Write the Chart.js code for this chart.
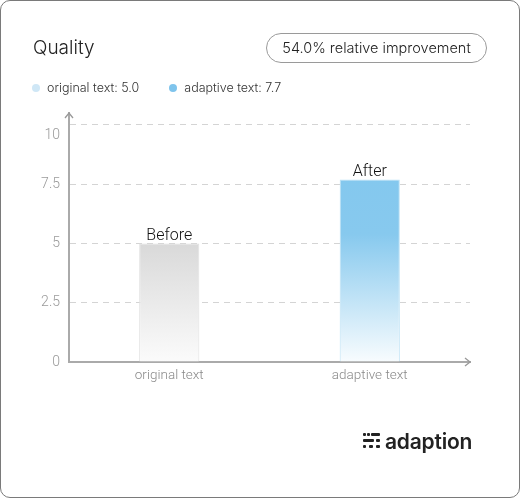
<!DOCTYPE html>
<html>
<head>
<meta charset="utf-8">
<script src="https://cdn.jsdelivr.net/npm/chart.js@4"></script>
<style>
  html, body { margin: 0; padding: 0; background: #fff; }
  body { width: 520px; height: 498px; position: relative; overflow: hidden; font-family: Inter, "Noto Sans", sans-serif; }
  .card { position: absolute; left: 0; top: 0; width: 520px; height: 498px; box-sizing: border-box; border: 1px solid #7a7a7a; border-radius: 10px; }
  #chart { position: absolute; left: 0; top: 0; }
  .title { position: absolute; left: 33px; top: 36px; font-size: 19px; font-weight: 300; color: #222; }
  .pill { position: absolute; left: 266px; top: 33px; width: 221px; height: 30px; box-sizing: border-box; border: 1px solid #9a9a9a; border-radius: 15px; font-size: 14.5px; font-weight: 300; color: #222; text-align: center; line-height: 28px; }
  .legend { position: absolute; left: 32px; top: 80px; font-size: 12.5px; font-weight: 300; color: #333; display: flex; }
  .legend .item { display: flex; align-items: center; margin-right: 30px; }
  .legend .dot { width: 8px; height: 8px; border-radius: 50%; margin-right: 7px; }
  .logo { position: absolute; left: 362px; top: 428px; height: 26px; display: flex; align-items: center; }
  .logo .txt { font-size: 21px; font-weight: 600; color: #222; margin-left: 23px; letter-spacing: -0.2px; }
  .logo .b { position: absolute; background: #222; border-radius: 1px; }
</style>
</head>
<body>
<div class="card"></div>
<canvas id="chart" width="520" height="498"></canvas>
<div class="title">Quality</div>
<div class="pill" id="pill"></div>
<div class="legend" id="legend"></div>
<div class="logo">
  <div class="b" style="left:1px;top:5px;width:3px;height:3px"></div>
  <div class="b" style="left:5px;top:5px;width:3px;height:3px"></div>
  <div class="b" style="left:9px;top:5px;width:9px;height:3px"></div>
  <div class="b" style="left:1px;top:11px;width:11px;height:3px"></div>
  <div class="b" style="left:14px;top:11px;width:4px;height:3px"></div>
  <div class="b" style="left:1px;top:17px;width:3px;height:3px"></div>
  <div class="b" style="left:7px;top:17px;width:4px;height:3px"></div>
  <div class="b" style="left:14px;top:17px;width:4px;height:3px"></div>
  <span class="txt">adaption</span>
</div>
<script>
const categories = ['original text', 'adaptive text'];
const scores = [5.0, 7.7];
const barTags = ['Before', 'After'];
const legendColors = ['#cfe7f6', '#7fc4ec'];
const yTicks = [0, 2.5, 5, 7.5, 10];

// header texts from data
const gain = (scores[1] - scores[0]) / scores[0] * 100;
document.getElementById('pill').textContent = gain.toFixed(1) + '% relative improvement';
document.getElementById('legend').innerHTML = categories.map((c, i) =>
  '<div class="item"><span class="dot" style="background:' + legendColors[i] + '"></span>' +
  c + ': ' + scores[i].toFixed(1) + '</div>').join('');

function barFill(ctx) {
  const chart = ctx.chart;
  if (!chart.chartArea) return '#ddd';
  const y = chart.scales.y;
  const top = y.getPixelForValue(scores[ctx.dataIndex]);
  const bottom = y.getPixelForValue(0);
  const g = chart.ctx.createLinearGradient(0, top, 0, bottom);
  if (ctx.dataIndex === 0) {
    g.addColorStop(0, '#d9d9d9');
    g.addColorStop(1, '#fbfbfb');
  } else {
    g.addColorStop(0, '#84c8ee');
    g.addColorStop(0.3, '#87c9ee');
    g.addColorStop(1, '#f8fcfe');
  }
  return g;
}

const extras = {
  id: 'extras',
  afterDatasetsDraw(chart) {
    const c = chart.ctx;
    const meta = chart.getDatasetMeta(0);
    c.save();
    c.font = '300 16px Roboto';
    c.fillStyle = '#111';
    c.textAlign = 'center';
    c.textBaseline = 'bottom';
    meta.data.forEach((bar, i) => c.fillText(barTags[i], bar.x, bar.y + 1));
    // axis arrow heads
    const a = chart.chartArea;
    c.strokeStyle = '#999';
    c.lineWidth = 1.3;
    c.beginPath();
    c.moveTo(a.left - 4, a.top + 5); c.lineTo(a.left, a.top); c.lineTo(a.left + 4, a.top + 5);
    c.moveTo(a.right - 5, a.bottom - 4); c.lineTo(a.right, a.bottom); c.lineTo(a.right - 5, a.bottom + 4);
    c.stroke();
    c.restore();
  }
};

new Chart(document.getElementById('chart'), {
  type: 'bar',
  data: {
    labels: categories,
    datasets: [{
      data: scores,
      backgroundColor: barFill,
      borderColor: ['#e0e0e0', '#bde2f5'],
      borderWidth: 1,
      barPercentage: 0.3,
      categoryPercentage: 1
    }]
  },
  options: {
    responsive: false,
    animation: false,
    layout: { padding: { top: 113, right: 50, left: 0, bottom: 0 } },
    plugins: { legend: { display: false }, tooltip: { enabled: false } },
    scales: {
      x: {
        afterFit(s) { s.height = 136; },
        grid: { drawOnChartArea: false, drawTicks: false },
        border: { color: '#aaa', width: 2 },
        ticks: { color: '#8a8a8a', padding: 6, font: { family: 'Roboto', size: 13.5, weight: 300 } }
      },
      y: {
        min: 0,
        max: 10.5,
        afterFit(s) { s.width = 69; },
        afterBuildTicks(s) { s.ticks = yTicks.map(v => ({ value: v })); },
        grid: { color: '#d4d4d4', lineWidth: 1, drawTicks: false },
        border: { color: '#aaa', width: 2, dash: [6, 5] },
        ticks: {
          color: '#9a9a9a',
          padding: 9,
          font: { family: 'Roboto', size: 14, weight: 300, lineHeight: '22px' },
          callback: v => v === 10 ? ['', '10'] : String(v)
        }
      }
    }
  },
  plugins: [extras]
});
</script>
</body>
</html>
